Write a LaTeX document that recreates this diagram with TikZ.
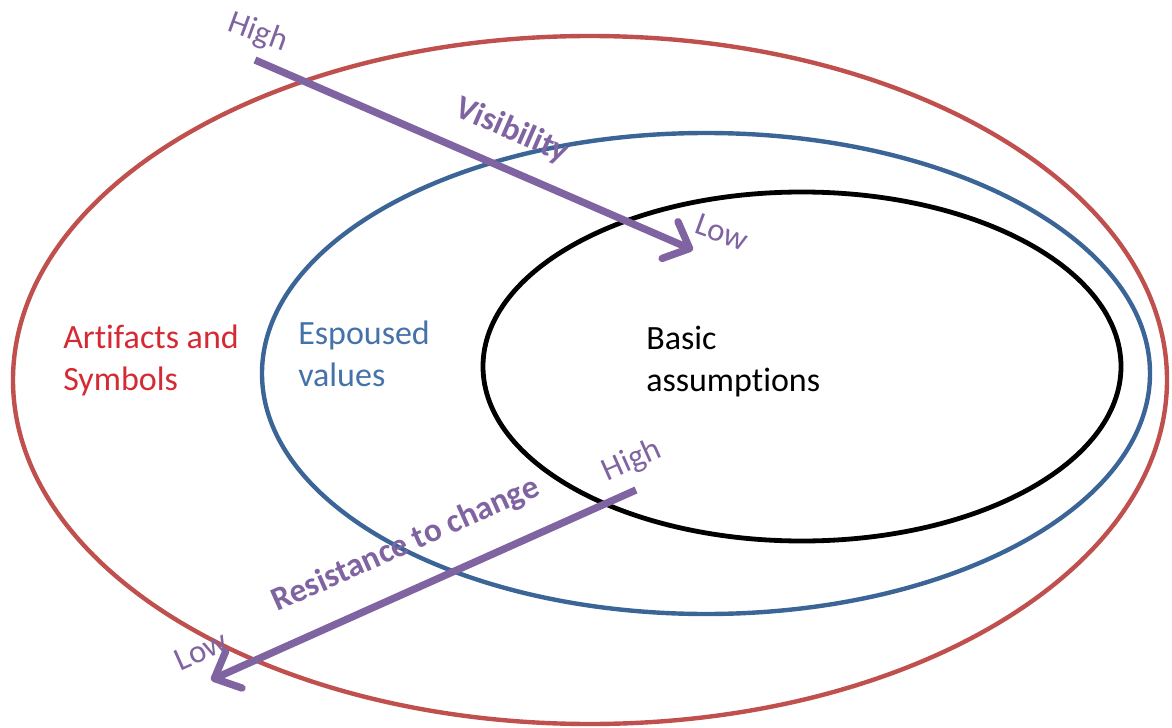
\documentclass[tikz,border=0pt]{standalone}
\usepackage{fontspec}
\setmainfont{Carlito}[Ligatures={NoCommon,NoContextual}]
\usetikzlibrary{arrows.meta}
\definecolor{ringred}{HTML}{C0504D}
\definecolor{ringblue}{HTML}{3A6596}
\definecolor{arrowpurple}{HTML}{8064A2}
\definecolor{textred}{HTML}{D42A33}
\definecolor{textblue}{HTML}{4672AA}
\newcommand{\nolig}{\kern0pt{}}
\tikzset{
  ring/.style={line width=3.3pt},
  mainlabel/.style={inner sep=0pt, anchor=base west, font=\fontsize{25.5}{31.5}\selectfont},
  axislabel/.style={inner sep=0pt, text=arrowpurple, font=\fontsize{24.5}{29}\selectfont},
  axistitle/.style={inner sep=0pt, text=arrowpurple, font=\bfseries\fontsize{25}{30}\selectfont},
  axisarrow/.style={draw=arrowpurple, line width=5.5pt, -{Straight Barb[length=16pt,width=30pt,round]}}
}
\begin{document}
\begin{tikzpicture}[x=0.75pt,y=-0.75pt]
\useasboundingbox (0,0) rectangle (1172,728);
% rings
\draw[ring, ringred] (590,380) ellipse [x radius=577, y radius=344];
\draw[ring, ringblue] (706,373.5) ellipse [x radius=444, y radius=240.5];
\draw[ring, black, line width=3.6pt] (802,366.5) ellipse [x radius=319, y radius=174.5];
% labels
\node[mainlabel, text=textred] (art1) at (63,348) {Art\nolig ifacts and};
\node[mainlabel, text=textred] (art2) at (63,390) {Symbols};
\node[mainlabel, text=textblue] (esp1) at (298,344) {Espoused};
\node[mainlabel, text=textblue] (esp2) at (298,386) {values};
\node[mainlabel, text=black] (bas1) at (646,349) {Basic};
\node[mainlabel, text=black] (bas2) at (646,391) {assumpt\nolig ions};
% visibility axis
\coordinate (visStart) at (255,60);
\coordinate (visEnd) at (693,250);
\draw[axisarrow] (visStart) -- (visEnd);
\node[axislabel, rotate=-20] (visHigh) at (258,33) {High};
\node[axislabel, rotate=-20] (visLow) at (722,232) {Low};
\node[axistitle, rotate=-23.5] (visTitle) at (512,131) {Visibility};
% resistance axis
\coordinate (resStart) at (636,490);
\coordinate (resEnd) at (211,680);
\draw[axisarrow] (resStart) -- (resEnd);
\node[axislabel, rotate=24] (resHigh) at (632,461) {High};
\node[axislabel, rotate=24] (resLow) at (201,651) {Low};
\node[axistitle, rotate=24] (resTitle) at (406,545) {Resistance to change};
\end{tikzpicture}
\end{document}
